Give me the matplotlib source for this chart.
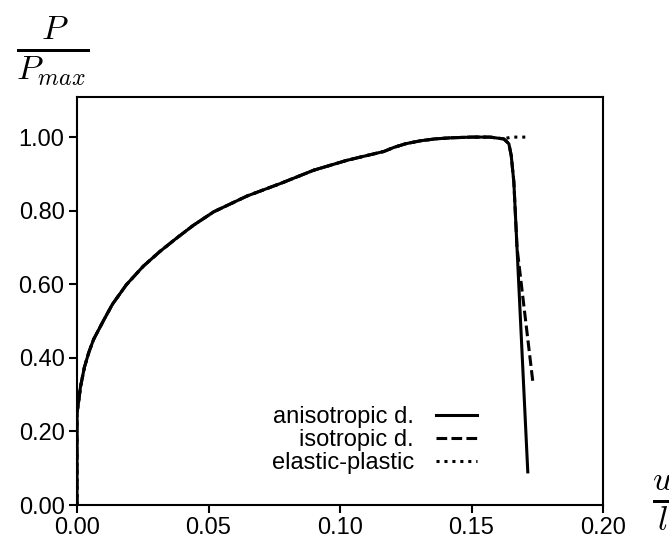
import matplotlib
matplotlib.use("Agg")
import matplotlib.pyplot as plt
import numpy as np

plt.rcParams['font.family'] = ['Liberation Sans', 'DejaVu Sans']
plt.rcParams['mathtext.fontset'] = 'cm'

# common hardening branch (u/l, P/Pmax)
u_hard = [0.0, 0.0, 0.0005, 0.0013, 0.0028, 0.0045, 0.0063, 0.0102, 0.0135,
          0.0188, 0.0252, 0.0315, 0.0378, 0.0442, 0.0520, 0.0647, 0.0774,
          0.0900, 0.1027, 0.1167, 0.1205, 0.1250, 0.1306, 0.1360, 0.142,
          0.150, 0.157, 0.1623]
p_hard = [0.0, 0.25, 0.275, 0.32, 0.374, 0.415, 0.450, 0.503, 0.546,
          0.599, 0.649, 0.689, 0.725, 0.760, 0.797, 0.840, 0.874,
          0.910, 0.937, 0.961, 0.972, 0.982, 0.990, 0.995, 0.998,
          1.0, 1.0, 0.995]

# softening branches
u_aniso_drop = [0.1642, 0.1651, 0.1661, 0.1673, 0.1714]
p_aniso_drop = [0.982, 0.950, 0.878, 0.700, 0.090]

u_iso_drop = [0.1642, 0.1651, 0.1661, 0.1673, 0.1734]
p_iso_drop = [0.982, 0.950, 0.878, 0.700, 0.330]

u_ep_tail = [0.1650, 0.1718]
p_ep_tail = [1.0, 1.0]

x_ticks = [0.00, 0.05, 0.10, 0.15, 0.20]
y_ticks = [0.00, 0.20, 0.40, 0.60, 0.80, 1.00]

fig = plt.figure(figsize=(6.69, 5.46), dpi=100)
ax = fig.add_axes([77/669, 1 - 505/546, (603-77)/669, (505-97)/546])

lw = 2.2
ax.plot(u_hard + u_ep_tail, p_hard + p_ep_tail, color='black', lw=lw,
        linestyle=(0, (1.0, 1.6)), label='elastic-plastic',
        solid_joinstyle='round')
ax.plot(u_hard + u_iso_drop, p_hard + p_iso_drop, color='black', lw=lw,
        linestyle=(0, (3.5, 1.4)), label='isotropic d.',
        solid_joinstyle='round')
ax.plot(u_hard + u_aniso_drop, p_hard + p_aniso_drop, color='black', lw=lw,
        label='anisotropic d.', solid_joinstyle='round')

ax.set_xlim(0, 0.20)
ax.set_ylim(0, 1.109)
ax.set_xticks(x_ticks)
ax.set_xticklabels([f"{v:.2f}" for v in x_ticks])
ax.set_yticks(y_ticks)
ax.set_yticklabels([f"{v:.2f}" for v in y_ticks])
ax.tick_params(direction='out', length=6, width=1.5, labelsize=17, pad=3,
               top=False, right=False)
for s in ax.spines.values():
    s.set_linewidth(1.5)

h, l = ax.get_legend_handles_labels()
order = [2, 1, 0]
leg = ax.legend([h[i] for i in order], [l[i] for i in order],
                loc='lower right', bbox_to_anchor=((477-77)/526, 0.075),
                markerfirst=False, frameon=False, fontsize=17,
                handlelength=1.75, handletextpad=0.92, labelspacing=0.05,
                borderpad=0, borderaxespad=0)

fig.text(52.5/669, 1 - 51/546, r'$\frac{P}{P_{max}}$', fontsize=35,
         ha='center', va='center')
fig.text(663/669, 1 - 503/546, r'$\frac{u}{l}$', fontsize=35,
         ha='center', va='center')

fig.savefig('out.png', dpi=100)
